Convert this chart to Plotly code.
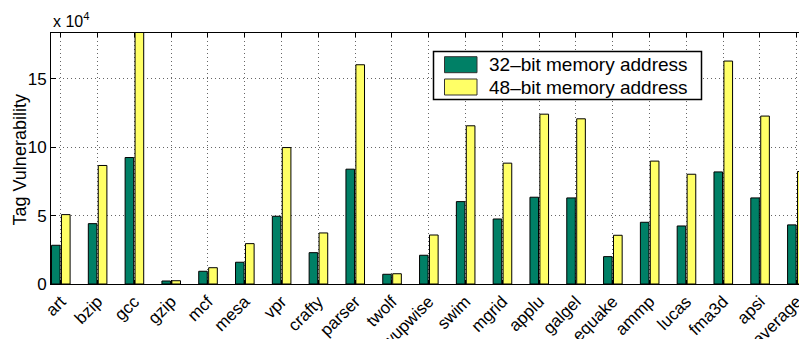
import plotly.graph_objects as go

categories = ["art", "bzip", "gcc", "gzip", "mcf", "mesa", "vpr", "crafty", "parser", "twolf",
              "wupwise", "swim", "mgrid", "applu", "galgel", "equake", "ammp", "lucas", "fma3d",
              "apsi", "average"]
# values in units of 1e4
bits32 = [2.83, 4.41, 9.24, 0.22, 0.93, 1.59, 4.95, 2.29, 8.39, 0.71,
          2.10, 6.02, 4.75, 6.34, 6.29, 2.00, 4.51, 4.24, 8.19, 6.29, 4.32]
bits48 = [5.07, 8.66, 19.5, 0.24, 1.19, 2.95, 9.97, 3.73, 16.02, 0.75,
          3.58, 11.56, 8.83, 12.41, 12.07, 3.56, 8.98, 8.02, 16.29, 12.27, 8.22]
series_names = ["32\u2013bit memory address", "48\u2013bit memory address"]
series_colors = ["#008066", "#FFFF66"]
ytick_vals = [0, 5, 10, 15]

FONT = "Liberation Sans, Arial, Helvetica, sans-serif"
W, H = 799, 339
ML, MR, MT, MB = 51, 0, 33, 55
PW, PH = W - ML - MR, H - MT - MB


def px(xp):
    return (xp - ML) / PW


def py(yp):
    return (H - MB - yp) / PH


x = list(range(len(categories)))

fig = go.Figure()
fig.add_trace(go.Bar(x=x, y=bits32, name=series_names[0],
                     marker=dict(color=series_colors[0], line=dict(color="black", width=1)),
                     offset=-0.25, width=0.232, showlegend=False))
fig.add_trace(go.Bar(x=x, y=bits48, name=series_names[1],
                     marker=dict(color=series_colors[1], line=dict(color="black", width=1)),
                     offset=0.02, width=0.235, showlegend=False))

GRID = dict(showgrid=True, gridcolor="#666666", griddash="1px,3px", gridwidth=1)

fig.update_layout(
    width=W, height=H,
    margin=dict(l=ML, r=MR, t=MT, b=MB, autoexpand=False),
    plot_bgcolor="white", paper_bgcolor="white",
    barmode="overlay",
    font=dict(family=FONT, size=17, color="black"),
    showlegend=False,
    xaxis=dict(range=[-0.264, 20.06], tickmode="array", tickvals=x, ticktext=categories,
               tickangle=-45, ticks="inside", ticklen=4, tickcolor="black",
               showline=True, linecolor="black", linewidth=1, mirror="ticks",
               zeroline=False, automargin=False, ticklabeloverflow="allow",
               tickfont=dict(size=17, family=FONT), **GRID),
    yaxis=dict(range=[0, 18.34], tickmode="array", tickvals=ytick_vals,
               ticktext=[str(v) for v in ytick_vals],
               ticks="inside", ticklen=5, tickcolor="black",
               showline=True, linecolor="black", linewidth=1, mirror=False,
               zeroline=False, automargin=False, ticklabeloverflow="allow",
               tickfont=dict(size=17, family=FONT), **GRID),
)

# y-axis title
fig.add_annotation(text="Tag Vulnerability", xref="paper", yref="paper",
                   x=px(19.5), y=py(160), textangle=-90, showarrow=False,
                   xanchor="center", yanchor="middle", font=dict(size=18, family=FONT))

# exponent label
fig.add_annotation(text="x 10<sup>4</sup>", xref="paper", yref="paper", x=0.0, y=1.0,
                   xanchor="left", yanchor="bottom", yshift=1, showarrow=False,
                   font=dict(size=16, family=FONT))

# legend (MATLAB-style box with large swatches)
fig.add_shape(type="rect", xref="paper", yref="paper",
              x0=px(433.5), x1=px(701.5), y0=py(99.5), y1=py(51.5),
              line=dict(color="black", width=1.5), fillcolor="white", layer="above")
rows = [(56.7, 72.7), (79.0, 95.0)]
for (top, bot), name, col in zip(rows, series_names, series_colors):
    fig.add_shape(type="rect", xref="paper", yref="paper",
                  x0=px(444.5), x1=px(477), y0=py(bot), y1=py(top),
                  line=dict(color="#333333", width=1), fillcolor=col, layer="above")
    fig.add_annotation(text=name, xref="paper", yref="paper",
                       x=px(487), y=py((top + bot) / 2), xanchor="left", yanchor="middle",
                       showarrow=False, font=dict(size=19, family=FONT))

fig.write_html("out.html",
               config={"displayModeBar": False},
               post_script="document.body.style.margin='0';document.body.style.padding='0';"
                           "document.body.style.overflow='hidden';")
